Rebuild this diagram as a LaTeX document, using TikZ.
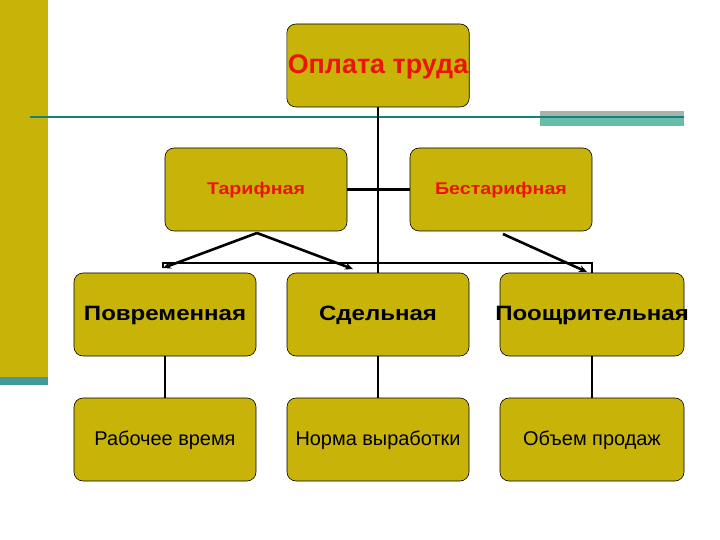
\documentclass[tikz,border=0pt]{standalone}
\usepackage{fontspec}
\setmainfont{Liberation Sans}
\newfontfamily\widesans[FakeStretch=1.16]{Liberation Sans}
\usetikzlibrary{arrows.meta,positioning}
\definecolor{ol}{RGB}{200,180,8}
\definecolor{tl}{RGB}{20,128,128}
\definecolor{gb}{RGB}{168,178,170}
\definecolor{tb}{RGB}{105,188,168}
\definecolor{rd}{RGB}{235,20,10}
\tikzset{card/.style={draw,fill=ol,rounded corners=9bp,minimum width=182bp,minimum height=83bp,inner sep=1pt,line width=.6pt,text depth=.5ex},
 head/.style={card,text=rd,font=\bfseries\fontsize{27}{30}\selectfont},
 kind/.style={card,text=rd,font=\widesans\bfseries\fontsize{17}{20}\selectfont},
 form/.style={card,font=\widesans\bfseries\fontsize{20.8}{24}\selectfont},
 base/.style={card,font=\fontsize{20}{24}\selectfont},
 wire/.style={line width=2.2bp},arr/.style={-{Stealth[length=8bp,width=7bp]},line width=2.6bp}}
\begin{document}
\begin{tikzpicture}[x=1bp,y=-1bp]
\useasboundingbox (0,0) rectangle (720,540);
\fill[ol] (0,0) rectangle (48,377);
\fill[tl!80] (0,377) rectangle (48,385);
\fill[gb] (540,111) rectangle (684,118);
\fill[tb] (540,118) rectangle (684,126);
\draw[tl,line width=2bp] (30,117)--(684,117);
\node[head] (pay) at (378,65.5) {Оплата труда};
\node[kind] (tar) at (256,189.5) {Тарифная};
\node[kind] (ntar) at (501,189.5) {Бестарифная};
\node[form] (time) at (165,314.5) {Повременная};
\node[form] (piece) at (378,314.5) {Сдельная};
\node[form,minimum width=184bp] (bonus) at (592,314.5) {\makebox[170bp]{Поощрительная}};
\node[base] (hours) at (165,439.5) {Рабочее время};
\node[base] (norm) at (378,439.5) {Норма выработки};
\node[base,minimum width=184bp] (sales) at (592,439.5) {Объем продаж};
\coordinate (lt) at (163,268);
\coordinate (pt) at (353,269);
\coordinate (bt) at (587,272);
\coordinate (ts) at (257,233);
\coordinate (bs) at (503,234);
\draw[wire] (pay.south)--(piece.north);
\draw[wire] (tar.east)--(ntar.west);
\draw[wire] (lt)--++(0,-5)-|(bonus.north);
\draw[arr] (ts)--(lt);
\draw[arr] (ts)--(pt);
\draw[arr] (bs)--(bt);
\foreach \a/\b in {time/hours,piece/norm,bonus/sales}{\draw[wire] (\a)--(\b);}
\end{tikzpicture}
\end{document}
